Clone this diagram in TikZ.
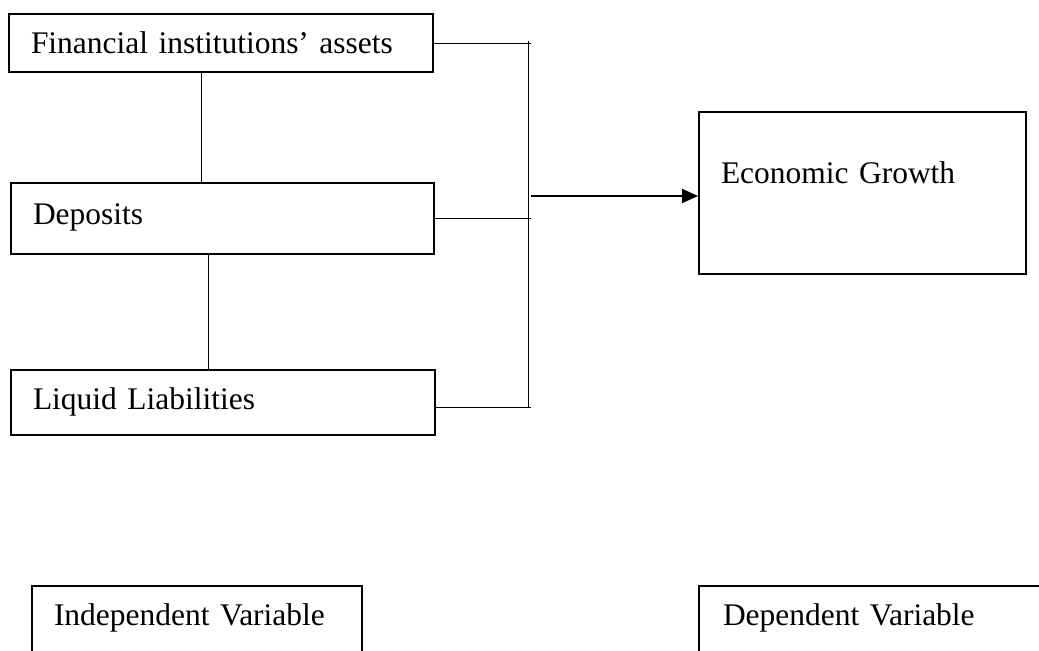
\documentclass[tikz,border=0pt]{standalone}
\usepackage{fontspec}
\setmainfont{Liberation Serif}
\usetikzlibrary{arrows.meta,positioning,calc}

\tikzset{
  varbox/.style={draw, line width=0.75pt, anchor=north west, inner xsep=8.25pt, inner ysep=0pt,
    align=left, font=\fontsize{11.8pt}{14pt}\selectfont},
  link/.style={line width=0.3pt},
}

\begin{document}
\begin{tikzpicture}[x=0.375pt, y=-0.375pt]
    \useasboundingbox (0,0) rectangle (1039,651);
    \clip (0,0) rectangle (1039,651);

    % Independent variables
    \node[varbox, text width=142.5pt, text height=15pt, text depth=6.75pt] (assets) at (8,13) {Financial institutions' assets};
    \node[varbox, text width=142.1pt, text height=15.4pt, text depth=11.25pt] (deposits) at (10,182) {Deposits};
    \node[varbox, text width=142.5pt, text height=15pt, text depth=9.4pt] (liquid) at (10,369) {Liquid Liabilities};

    % Dependent variable
    \node[varbox, text width=106.1pt, text height=27pt, text depth=33.75pt] (growth) at (698,111) {Economic Growth};

    % Legend
    \node[varbox, text width=107.25pt, text height=15pt, text depth=37.5pt] (indep) at (31,585) {Independent Variable};
    \node[varbox, inner xsep=9pt, text width=133.5pt, text height=15pt, text depth=37.5pt] (dep) at (698,585) {Dependent Variable};

    % Links between the variables
    \draw[link] (assets.south west) ++(193,0) coordinate (a) -- (a |- deposits.north);
    \draw[link] (deposits.south west) ++(198,0) coordinate (b) -- (b |- liquid.north);

    % Bracket
    \coordinate (bus) at (528,41);
    \coordinate (tip) at (531,0);
    \draw[link] (bus) -- ++(0,366);
    \draw[link] (assets.east) -- (assets.east -| tip);
    \draw[link] (deposits.east) -- (deposits.east -| tip);
    \draw[link] ($(liquid.east)+(0,5)$) coordinate (c) -- (c -| tip);

    % Effect on growth
    \coordinate (join) at (531,196);
    \draw[line width=0.7pt, -{Triangle[length=6pt,width=5.25pt]}] (join) -- (join -| growth.west);
\end{tikzpicture}
\end{document}
